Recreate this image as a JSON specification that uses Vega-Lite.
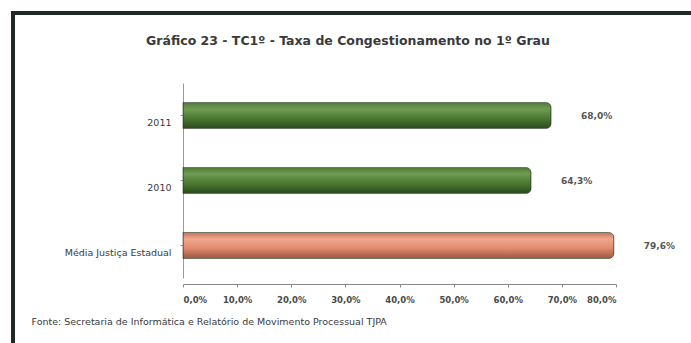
{
  "$schema": "https://vega.github.io/schema/vega-lite/v6.json",
  "autosize": {"type": "none"},
  "padding": {"left": 13, "top": 13, "right": 0, "bottom": 0},
  "width": 690,
  "height": 340,
  "background": "white",
  "config": {
    "locale": {"number": {"decimal": ",", "thousands": ".", "grouping": [3], "currency": ["R$", ""]}},
    "view": {"stroke": "#1f2a24", "strokeWidth": 4},
    "font": "DejaVu Sans"
  },
  "title": {
    "text": "Gráfico 23 - TC1º - Taxa de Congestionamento no 1º Grau",
    "anchor": "middle",
    "dx": -10,
    "offset": -44,
    "baseline": "alphabetic",
    "font": "DejaVu Sans",
    "fontSize": 12.5,
    "fontWeight": "bold",
    "color": "#3a3a3a"
  },
  "data": {
    "values": [
      {"categoria": "2011", "taxa": 0.680, "grupo": "TJPA"},
      {"categoria": "2010", "taxa": 0.643, "grupo": "TJPA"},
      {"categoria": "Média Justiça Estadual", "taxa": 0.796, "grupo": "Média"}
    ]
  },
  "encoding": {
    "y": {
      "field": "categoria",
      "type": "nominal",
      "sort": null,
      "scale": {"range": [70, 265], "paddingInner": 0.6, "paddingOuter": 0.3},
      "axis": {
        "title": null,
        "orient": "left",
        "offset": -170,
        "domainColor": "#9a9a9a",
        "tickColor": "#9a9a9a",
        "tickSize": 3,
        "labelPadding": 9,
        "labelOffset": 7,
        "labelFont": "DejaVu Sans",
        "labelFontSize": 9.5,
        "labelColor": "#3a3a3a"
      }
    }
  },
  "layer": [
    {
      "mark": {
        "type": "bar",
        "cornerRadiusEnd": 5,
        "stroke": "#2a3a22",
        "strokeWidth": 0.6
      },
      "encoding": {
        "x": {
          "field": "taxa",
          "type": "quantitative",
          "scale": {"domain": [0, 0.8], "range": [170, 603], "nice": false, "zero": true},
          "axis": {
            "format": ".1%",
            "values": [0, 0.1, 0.2, 0.3, 0.4, 0.5, 0.6, 0.7, 0.8],
            "grid": false,
            "orient": "bottom",
            "offset": -69,
            "domainColor": "#8a8a8a",
            "tickColor": "#8a8a8a",
            "tickSize": 3,
            "labelPadding": 8,
            "labelFont": "DejaVu Sans",
            "labelFontSize": 8.5,
            "labelFontWeight": "bold",
            "labelColor": "#4a4a4a",
            "title": "Fonte: Secretaria de Informática e Relatório de Movimento Processual TJPA",
            "titleFont": "DejaVu Sans",
            "titleFontSize": 9.5,
            "titleFontWeight": "normal",
            "titleColor": "#3a3a3a",
            "titleAnchor": "start",
            "titleAlign": "left",
            "titleBaseline": "middle",
            "titleX": 18,
            "titleY": 37
          }
        },
        "fill": {
          "condition": {
            "test": "datum.grupo === 'Média'",
            "value": {
              "gradient": "linear", "x1": 0, "y1": 0, "x2": 0, "y2": 1,
              "stops": [
                {"offset": 0, "color": "#c9735c"},
                {"offset": 0.25, "color": "#f0a790"},
                {"offset": 0.6, "color": "#e28b70"},
                {"offset": 1, "color": "#9e5642"}
              ]
            }
          },
          "value": {
            "gradient": "linear", "x1": 0, "y1": 0, "x2": 0, "y2": 1,
            "stops": [
              {"offset": 0, "color": "#4f7a37"},
              {"offset": 0.25, "color": "#6f9c52"},
              {"offset": 0.6, "color": "#4c7a33"},
              {"offset": 1, "color": "#2a4a1c"}
            ]
          }
        }
      }
    },
    {
      "mark": {"type": "text", "align": "left", "baseline": "middle", "dx": 30, "font": "DejaVu Sans", "fontSize": 9, "fontWeight": "bold", "color": "#555555"},
      "encoding": {
        "x": {"field": "taxa", "type": "quantitative"},
        "text": {"field": "taxa", "type": "quantitative", "format": ".1%"}
      }
    }
  ]
}
